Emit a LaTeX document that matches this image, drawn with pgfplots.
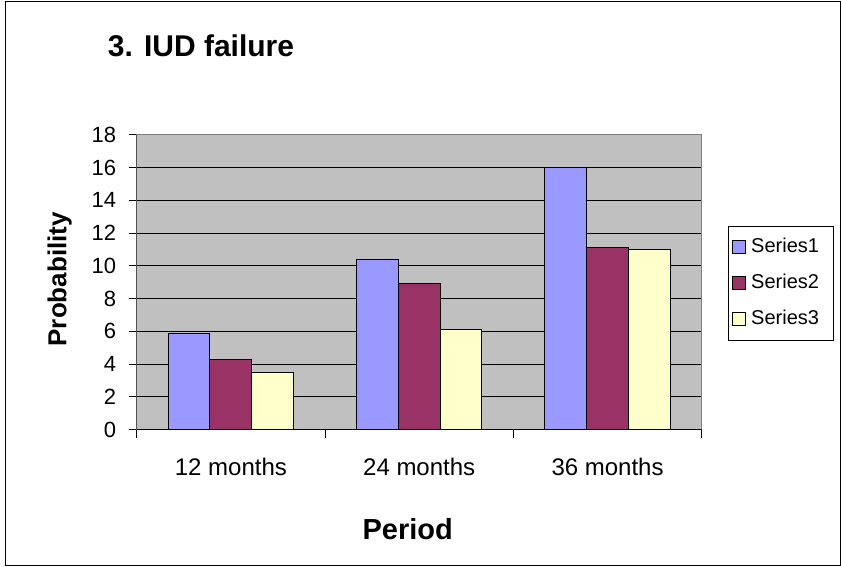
\documentclass[border=0pt]{standalone}
\usepackage{fontspec}
\setmainfont{Liberation Sans}
\usepackage{pgfplots}
\pgfplotsset{compat=1.18}
\definecolor{sone}{HTML}{9999FF}
\definecolor{stwo}{HTML}{993366}
\definecolor{sthree}{HTML}{FFFFCC}
\definecolor{plotbg}{HTML}{C0C0C0}
\begin{document}
\begin{tikzpicture}
\path[use as bounding box] (0,0) rectangle (841pt,-567pt);
\draw[black, line width=1pt] (5pt,-1.5pt) rectangle (840pt,-565.5pt);
\begin{axis}[
  at={(136.7pt,-429.7pt)}, anchor=south west,
  scale only axis, width=565pt, height=295pt,
  ybar=0pt, bar width=41.8pt,
  xmin=-0.5, xmax=2.5, ymin=0, ymax=18,
  ytick={0,2,...,18},
  xtick={0,1,2}, xticklabels={12 months,24 months,36 months},
  minor xtick={-0.5,0.5,1.5,2.5},
  tick align=outside, tick pos=left,
  major tick length=8pt, minor tick length=8pt,
  major x tick style={draw=none},
  minor x tick style={black, line width=1pt},
  ytick style={black, line width=1pt},
  ymajorgrids, grid style={black, line width=1pt},
  axis background/.style={fill=plotbg},
  axis line style={draw=gray, line width=1pt},
  /pgf/number format/assume math mode=true,
  yticklabel style={font=\fontsize{22}{26}\selectfont, xshift=-9pt},
  xticklabel style={font=\fontsize{24}{28}\selectfont, yshift=-17pt},
  title={3. IUD failure},
  every axis title shift=0pt,
  title style={at={(axis description cs:-0.0513,1.2644)}, anchor=base west, inner sep=0pt, font=\fontsize{30}{36}\selectfont\bfseries},
  xlabel={Period},
  xlabel style={at={(axis description cs:0.4796,-0.3729)}, anchor=base, inner sep=0pt, font=\fontsize{29}{34}\selectfont\bfseries},
  ylabel={Probability},
  ylabel style={at={(axis description cs:-0.1244,0.5102)}, anchor=base, rotate=0, inner sep=0pt, font=\fontsize{26}{31}\selectfont\bfseries},
  legend image code/.code={\draw[#1, line width=1pt] (0pt,-6.5pt) rectangle (13pt,6.5pt);},
  legend cell align=left,
  legend style={at={(axis description cs:1.046,0.6915)}, anchor=north west, draw=black, line width=1pt,
    font=\fontsize{20}{24}\selectfont, inner xsep=4pt, inner ysep=11pt,
    nodes={inner sep=0pt, text height=15pt, text depth=5pt},
    row sep=16pt,
    /tikz/every odd column/.append style={column sep=5pt}},
]
\addplot[fill=sone, draw=black, line width=1pt] coordinates {(0,5.9) (1,10.4) (2,16)};
\addplot[fill=stwo, draw=black, line width=1pt] coordinates {(0,4.3) (1,8.9) (2,11.1)};
\addplot[fill=sthree, draw=black, line width=1pt] coordinates {(0,3.5) (1,6.1) (2,11.0)};
\legend{Series1\hspace*{10pt}\mbox{},Series2\hspace*{10pt}\mbox{},Series3\hspace*{10pt}\mbox{}}
\draw[black, line width=1pt] (rel axis cs:0,0) -- (rel axis cs:1,0);
\draw[black, line width=1pt] (rel axis cs:0,0) -- (rel axis cs:0,1);
\end{axis}
\end{tikzpicture}
\end{document}
